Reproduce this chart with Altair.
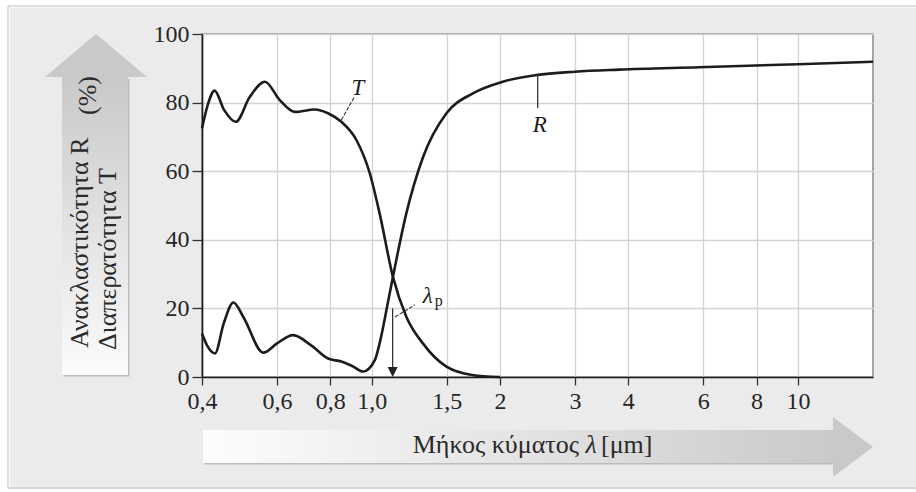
import altair as alt
import pandas as pd

# Transmittance T (%) against wavelength (µm)
t_lambda = [0.400, 0.413, 0.428, 0.451, 0.480, 0.518, 0.562, 0.608, 0.660, 0.736,
            0.790, 0.849, 0.921, 0.990, 1.044, 1.122, 1.206, 1.319, 1.498, 1.72, 2.00]
t_value = [72.5, 79.5, 83.5, 77.8, 74.4, 81.7, 86.1, 80.8, 77.3, 78.0,
           76.9, 74.4, 69.1, 59.4, 47.7, 29.2, 17.6, 9.8, 3.0, 0.6, 0.0]

# Reflectance R (%) against wavelength (µm)
r_lambda = [0.400, 0.412, 0.429, 0.450, 0.474, 0.500, 0.557, 0.600, 0.654, 0.720,
            0.790, 0.849, 0.900, 0.955, 1.018, 1.044, 1.091, 1.122, 1.206, 1.319,
            1.498, 1.728, 2.03, 2.43, 3.0, 3.81, 5.86, 10.0, 15.0]
r_value = [12.7, 9.0, 6.9, 15.7, 21.7, 17.5, 7.1, 9.8, 12.2, 9.3,
           5.4, 4.5, 3.2, 1.6, 5.0, 9.8, 21.5, 29.2, 47.7, 64.0,
           76.9, 82.7, 86.1, 88.0, 89.0, 89.6, 90.3, 91.2, 91.9]

x_ticks = [0.4, 0.6, 0.8, 1.0, 1.5, 2, 3, 4, 6, 8, 10]
y_ticks = [0, 20, 40, 60, 80, 100]
x_domain = [0.4, 15]

# plasma wavelength marker
lambda_p = 1.12
lambda_p_top = 20

# curve labels (italic) and their leader lines
label_text = ["T", "R", "λ"]
label_lambda = [0.928, 2.48, 1.353]
label_value = [82.2, 71.4, 21.6]
sub_text = ["p"]
sub_lambda = [1.436]
sub_value = [20.6]
leader_x1 = [0.849, 2.452, 1.134]
leader_y1 = [74.9, 88.3, 17.5]
leader_x2 = [0.913, 2.452, 1.262]
leader_y2 = [81.9, 78.4, 21.0]
leader_dash = ["d", "s", "d"]

y_title_lines = ["Ανακλαστικότητα R", "Διαπερατότητα T"]
y_title_unit = "(%)"
x_title_parts = ["Μήκος κύματος", "λ", "[μm]"]

SERIF = "Liberation Serif"
INK = "#1c1c1c"

curves = pd.DataFrame({
    "lam": t_lambda + r_lambda,
    "val": t_value + r_value,
    "curve": ["T"] * len(t_lambda) + ["R"] * len(r_lambda),
})

x_scale = alt.Scale(type="log", domain=x_domain, nice=False)
y_scale = alt.Scale(domain=[0, 100], nice=False)

x_axis = alt.Axis(
    values=x_ticks, title=None, grid=True, gridColor="#d3d3d3", gridWidth=1.3,
    labelExpr="datum.value < 1.9 ? replace(format(datum.value, '.1f'), '.', ',') : format(datum.value, 'd')",
    tickSize=8, tickColor="#333", tickWidth=1.3, domainColor=INK, domainWidth=1.6,
    labelFont=SERIF, labelFontSize=24, labelColor="#262626", labelPadding=4,
    labelFlush=False, labelOverlap=False,
)
y_axis = alt.Axis(
    values=y_ticks, title=None, grid=True, gridColor="#d3d3d3", gridWidth=1.3,
    tickSize=10, tickColor="#333", tickWidth=1.3, domainColor=INK, domainWidth=1.6,
    labelFont=SERIF, labelFontSize=24, labelColor="#262626", labelPadding=3,
    labelFlush=False, labelOverlap=False,
)

lines = alt.Chart(curves).mark_line(
    interpolate="monotone", color=INK, strokeWidth=2.6
).encode(
    x=alt.X("lam:Q", scale=x_scale, axis=x_axis),
    y=alt.Y("val:Q", scale=y_scale, axis=y_axis),
    detail="curve:N",
)

leaders_df = pd.DataFrame({"x1": leader_x1, "y1": leader_y1, "x2": leader_x2,
                           "y2": leader_y2, "kind": leader_dash})
leaders_dashed = alt.Chart(leaders_df).transform_filter("datum.kind == 'd'").mark_rule(
    color="#333", strokeWidth=1.1, strokeDash=[4, 1.5]
).encode(x="x1:Q", y="y1:Q", x2="x2:Q", y2="y2:Q")
leaders_solid = alt.Chart(leaders_df).transform_filter("datum.kind == 's'").mark_rule(
    color="#333", strokeWidth=1.3
).encode(x="x1:Q", y="y1:Q", x2="x2:Q", y2="y2:Q")

labels = alt.Chart(pd.DataFrame({"t": label_text, "x": label_lambda, "y": label_value})).mark_text(
    font=SERIF, fontSize=23, fontStyle="italic", color=INK, align="center", baseline="alphabetic"
).encode(x="x:Q", y="y:Q", text="t:N")
subs = alt.Chart(pd.DataFrame({"t": sub_text, "x": sub_lambda, "y": sub_value})).mark_text(
    font=SERIF, fontSize=16, color=INK, align="center", baseline="alphabetic"
).encode(x="x:Q", y="y:Q", text="t:N")

marker_df = pd.DataFrame({"x": [lambda_p], "y": [lambda_p_top], "y0": [2.0], "tip": [0.0]})
marker_rule = alt.Chart(marker_df).mark_rule(color="#333", strokeWidth=1.3).encode(
    x="x:Q", y="y:Q", y2="y0:Q")
marker_head = alt.Chart(marker_df).mark_point(
    shape="M -0.5 -1 L 0.5 -1 L 0 0 Z", size=400, filled=True, fill="#222", opacity=1, strokeWidth=0
).encode(x="x:Q", y="tip:Q")

one = pd.DataFrame({"k": [0]})


def box(x, x2, y, y2, **style):
    return alt.Chart(one).mark_rect(**style).encode(
        x=alt.value(x), x2=alt.value(x2), y=alt.value(y), y2=alt.value(y2))


def hline(x, x2, y, color, width):
    return alt.Chart(one).mark_rule(color=color, strokeWidth=width).encode(
        x=alt.value(x), x2=alt.value(x2), y=alt.value(y))


def vline(x, y, y2, color, width):
    return alt.Chart(one).mark_rule(color=color, strokeWidth=width).encode(
        x=alt.value(x), y=alt.value(y), y2=alt.value(y2))


# panel frame around the figure (coordinates relative to the plot origin)
frame = [
    box(-202, 720, -34, -28, fill="white"),
    box(-202, -194, -34, 460, fill="white"),
    box(-202, 720, 455, 460, fill="white"),
    hline(-194, 720, -28, "#d2d2d2", 1.5),
    hline(-193, 720, -26.5, "#f8f8f8", 1.5),
    vline(-194, -28, 454, "#d2d2d2", 1.5),
    vline(-192.5, -27, 454, "#f8f8f8", 1.5),
    hline(-194, 720, 454, "#d2d2d2", 1.5),
]

up_fill = alt.Gradient(
    gradient="linear",
    stops=[alt.GradientStop(color="#fbfbfb", offset=0), alt.GradientStop(color="#c9c9c9", offset=1)],
    x1=0, x2=0, y1=1, y2=0,
)
right_fill = alt.Gradient(
    gradient="linear",
    stops=[alt.GradientStop(color="#fdfdfd", offset=0), alt.GradientStop(color="#cacaca", offset=1)],
    x1=0, x2=1, y1=0, y2=0,
)

arrows = [
    # vertical arrow behind the y title
    box(-138.5, -72.5, 45, 342.5, fill="#bdbdbd"),
    box(-140, -74, 43, 341, fill=up_fill),
    alt.Chart(one).mark_point(
        shape="M 0 0 L 1 0.843 L -1 0.843 Z", size=10404, filled=True,
        fill="#c9c9c9", opacity=1, strokeWidth=0,
    ).encode(x=alt.value(-106), y=alt.value(0)),
    # horizontal arrow behind the x title
    box(2, 632, 397.5, 430.5, fill="#bdbdbd"),
    box(1, 631, 396, 429, fill=right_fill),
    alt.Chart(one).mark_point(
        shape="M 0 0 L -1 -0.75 L -1 0.75 Z", size=6400, filled=True,
        fill="#c9c9c9", opacity=1, strokeWidth=0,
    ).encode(x=alt.value(671), y=alt.value(413)),
]


def text_at(s, x, y, **style):
    return alt.Chart(pd.DataFrame({"t": [s]})).mark_text(
        font=SERIF, color="#2a2a2a", **style
    ).encode(x=alt.value(x), y=alt.value(y), text="t:N")


titles = [
    text_at(y_title_lines[0], -114, 314, fontSize=26, angle=270, align="left", baseline="alphabetic"),
    text_at(y_title_lines[1], -86, 316, fontSize=26, angle=270, align="left", baseline="alphabetic"),
    text_at(y_title_unit, -106, 81, fontSize=26, angle=270, align="left", baseline="alphabetic"),
    text_at(x_title_parts[0], 377, 419, fontSize=26, align="right", baseline="alphabetic"),
    text_at(x_title_parts[1], 389, 419, fontSize=26, fontStyle="italic", align="center", baseline="alphabetic"),
    text_at(x_title_parts[2], 399, 419, fontSize=26, align="left", baseline="alphabetic"),
]

chart = alt.layer(
    *frame, *arrows, *titles,
    lines, leaders_dashed, leaders_solid, labels, subs, marker_rule, marker_head,
).properties(
    width=671, height=343,
    padding={"left": 202, "top": 34, "right": 43, "bottom": 115},
    autosize=alt.AutoSizeParams(type="none"),
    background="#ebebeb",
).configure_view(
    fill="white", stroke="#8a8a8a", strokeWidth=1.5,
)

chart.save("out.html", embed_options={"renderer": "svg", "actions": False})
